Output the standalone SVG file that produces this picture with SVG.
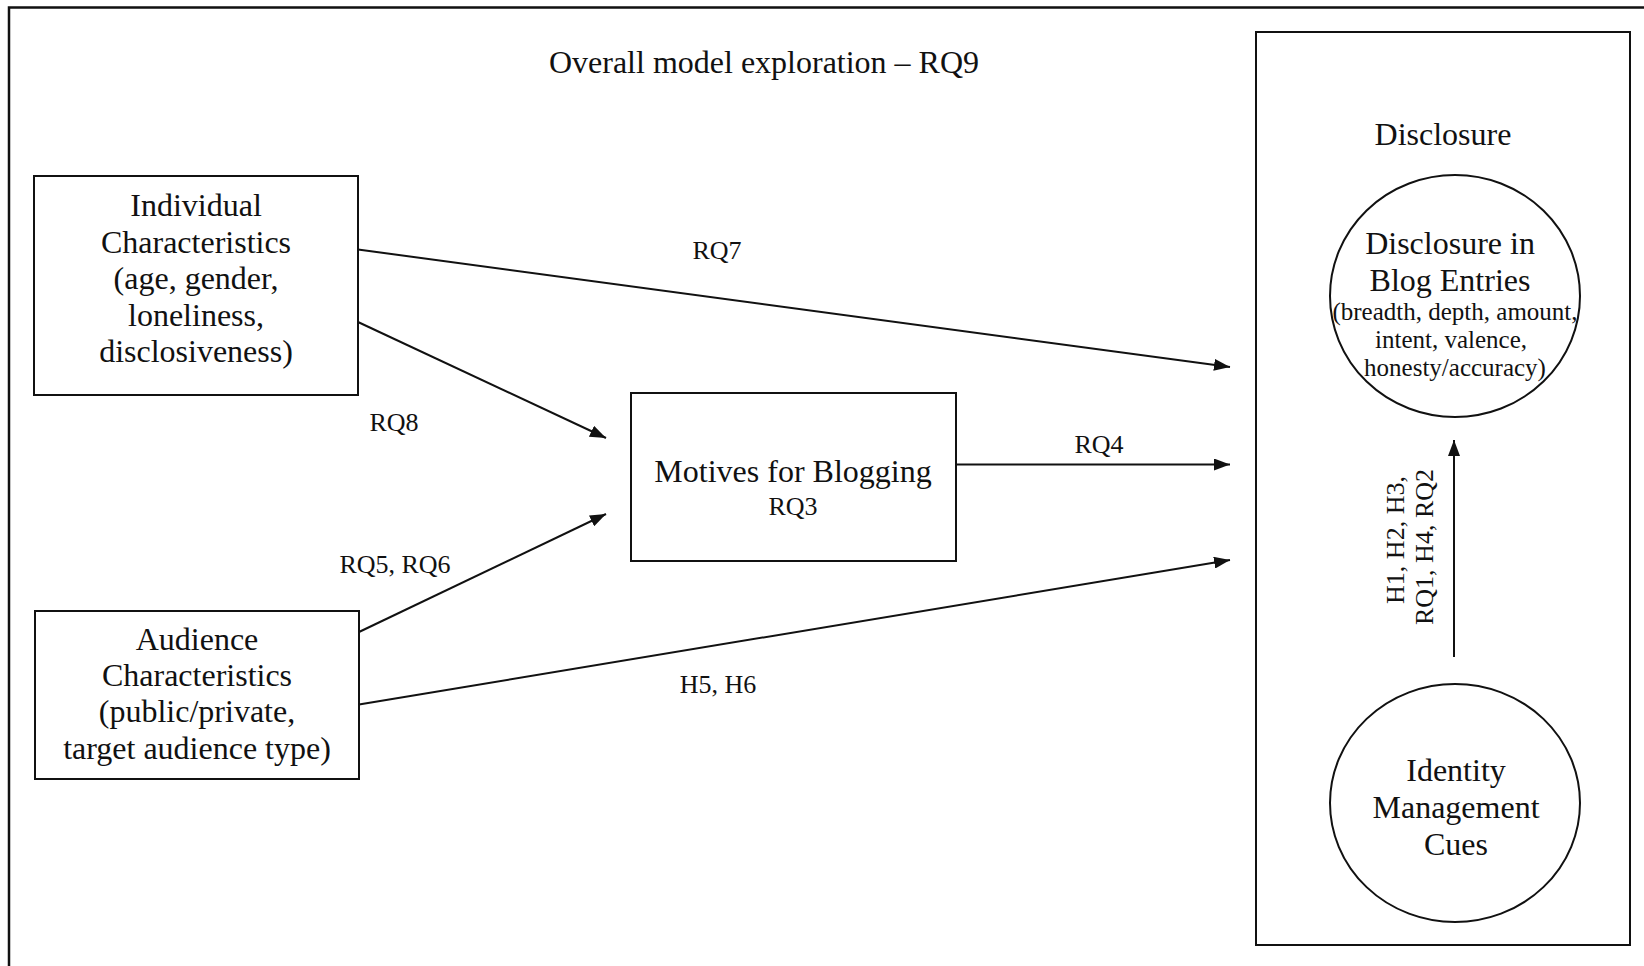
<svg xmlns="http://www.w3.org/2000/svg" width="1644" height="966" viewBox="0 0 1644 966">
<defs>
<style>
.t{font-family:"Liberation Serif","Times New Roman",serif;fill:#111;text-anchor:middle}
.b{font-size:32px}
.s{font-size:25px}
.l{font-size:26px}
.box{fill:#fff;stroke:#111;stroke-width:2}
.c{fill:none;stroke:#111;stroke-width:2}
.e{fill:none;stroke:#111;stroke-width:2;marker-end:url(#ah)}
</style>
<marker id="ah" viewBox="0 0 16 12" refX="16" refY="6" markerWidth="16" markerHeight="12" markerUnits="userSpaceOnUse" orient="auto">
<path d="M0,0 L16,6 L0,12 z" fill="#111"/>
</marker>
</defs>
<rect width="1644" height="966" fill="#fff"/>
<path d="M9,966 V7.5 H1644" fill="none" stroke="#111" stroke-width="2.5"/>
<text class="t b" x="764" y="73">Overall model exploration – RQ9</text>

<g id="disclosure-group">
<rect class="box" x="1256" y="32" width="374" height="913"/>
<text class="t b" x="1443" y="145">Disclosure</text>
</g>

<g id="individual">
<rect class="box" x="34" y="176" width="324" height="219"/>
<text class="t b" x="196" y="216">Individual</text>
<text class="t b" x="196" y="253">Characteristics</text>
<text class="t b" x="196" y="289">(age, gender,</text>
<text class="t b" x="196" y="326">loneliness,</text>
<text class="t b" x="196" y="362">disclosiveness)</text>
</g>

<g id="audience">
<rect class="box" x="35" y="611" width="324" height="168"/>
<text class="t b" x="197" y="650">Audience</text>
<text class="t b" x="197" y="686">Characteristics</text>
<text class="t b" x="197" y="722">(public/private,</text>
<text class="t b" x="197" y="759">target audience type)</text>
</g>

<g id="motives">
<rect class="box" x="631" y="393" width="325" height="168"/>
<text class="t b" x="793" y="482">Motives for Blogging</text>
<text class="t l" x="793" y="515">RQ3</text>
</g>

<g id="disclosure-entries">
<ellipse class="c" cx="1455" cy="296" rx="125" ry="121"/>
<text class="t b" x="1450" y="254">Disclosure in</text>
<text class="t b" x="1450" y="291">Blog Entries</text>
<text class="t s" x="1455" y="320">(breadth, depth, amount,</text>
<text class="t s" x="1451" y="348">intent, valence,</text>
<text class="t s" x="1455" y="376">honesty/accuracy)</text>
</g>

<g id="identity">
<ellipse class="c" cx="1455" cy="803" rx="125" ry="119"/>
<text class="t b" x="1456" y="781">Identity</text>
<text class="t b" x="1456" y="818">Management</text>
<text class="t b" x="1456" y="855">Cues</text>
</g>

<g id="connectors">
<line class="e" x1="358" y1="249.5" x2="1230" y2="367"/>
<line class="e" x1="358" y1="322" x2="606" y2="438"/>
<line class="e" x1="359" y1="632" x2="606" y2="514"/>
<line class="e" x1="359" y1="704.5" x2="1230" y2="560"/>
<line class="e" x1="956" y1="464.5" x2="1230" y2="464.5"/>
<line class="e" x1="1454" y1="657" x2="1454" y2="440"/>
<text class="t l" x="717" y="259">RQ7</text>
<text class="t l" x="394" y="431">RQ8</text>
<text class="t l" x="1099" y="453">RQ4</text>
<text class="t l" x="395" y="573">RQ5, RQ6</text>
<text class="t l" x="718" y="693">H5, H6</text>
<text class="t l" transform="translate(1404,540) rotate(-90)">H1, H2, H3,</text>
<text class="t l" transform="translate(1433,547) rotate(-90)">RQ1, H4, RQ2</text>
</g>
</svg>
